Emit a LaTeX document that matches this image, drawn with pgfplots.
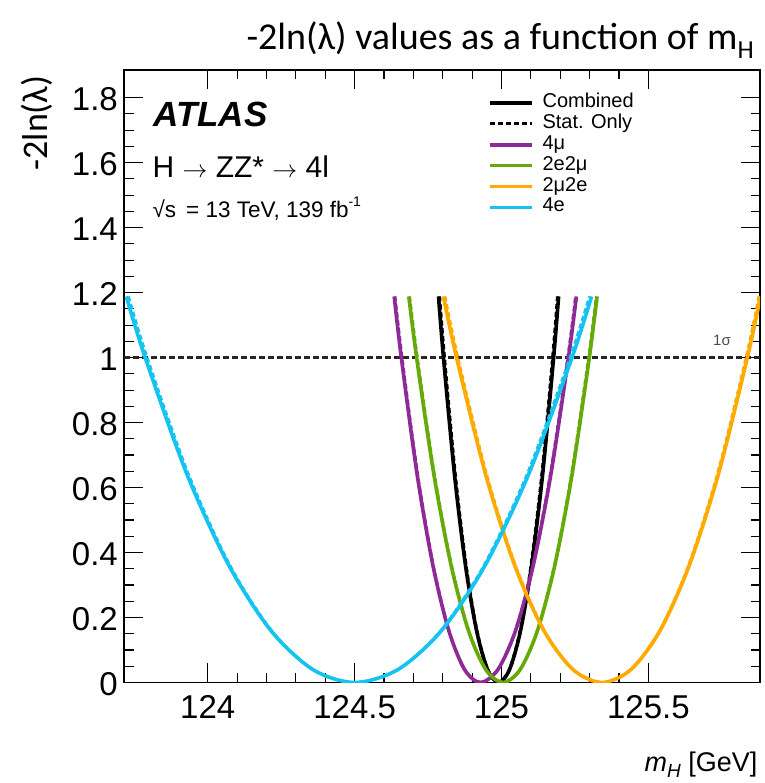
\documentclass[border=0pt]{standalone}
\usepackage{fontspec}
\setmainfont{Liberation Sans}
\newfontfamily\calibri{Carlito}
\usepackage{pgfplots}
\pgfplotsset{compat=1.18}
\usepackage{pgfplotstable}
\definecolor{cpurple}{RGB}{142,42,152}
\definecolor{cgreen}{RGB}{102,170,10}
\definecolor{corange}{RGB}{255,170,0}
\definecolor{ccyan}{RGB}{20,195,240}

\pgfplotstableread{
x y
124.7856 1.1881
124.8025 1
124.84 0.64
124.8775 0.36
124.915 0.16
124.9525 0.04
124.99 0
125.0275 0.04
125.065 0.16
125.1025 0.36
125.14 0.64
125.1775 1
125.1944 1.1881
}\comb
\pgfplotstableread{
x y
124.7894 1.1881
124.806 1
124.8428 0.64
124.8796 0.36
124.9164 0.16
124.9532 0.04
124.99 0
125.0268 0.04
125.0636 0.16
125.1004 0.36
125.1372 0.64
125.174 1
125.1906 1.1881
}\combstat
\pgfplotstableread{
x y
124.6348 1.1881
124.659 1
124.7128 0.64
124.7666 0.36
124.8204 0.16
124.8742 0.04
124.928 0
124.988 0.04
125.048 0.16
125.108 0.36
125.168 0.64
125.228 1
125.255 1.1881
}\fourmu
\pgfplotstableread{
x y
124.6381 1.1881
124.662 1
124.7152 0.64
124.7684 0.36
124.8216 0.16
124.8748 0.04
124.928 0
124.9874 0.04
125.0468 0.16
125.1062 0.36
125.1656 0.64
125.225 1
125.2517 1.1881
}\fourmustat
\pgfplotstableread{
x y
124.6845 1.1881
124.711 1
124.7698 0.64
124.8286 0.36
124.8874 0.16
124.9462 0.04
125.005 0
125.0638 0.04
125.1226 0.16
125.1814 0.36
125.2402 0.64
125.299 1
125.3255 1.1881
}\tetm
\pgfplotstableread{
x y
124.6878 1.1881
124.714 1
124.7722 0.64
124.8304 0.36
124.8886 0.16
124.9468 0.04
125.005 0
125.0632 0.04
125.1214 0.16
125.1796 0.36
125.2378 0.64
125.296 1
125.3222 1.1881
}\tetmstat
\pgfplotstableread{
x y
124.8024 1.1881
124.847 1
124.946 0.64
125.045 0.36
125.144 0.16
125.243 0.04
125.342 0
125.441 0.04
125.54 0.16
125.639 0.36
125.738 0.64
125.837 1
125.8816 1.1881
}\tmte
\pgfplotstableread{
x y
124.8079 1.1881
124.852 1
124.95 0.64
125.048 0.36
125.146 0.16
125.244 0.04
125.342 0
125.44 0.04
125.538 0.16
125.636 0.36
125.734 0.64
125.832 1
125.8761 1.1881
}\tmtestat
\pgfplotstableread{
x y
123.7228 1.1881
123.787 1
123.9296 0.64
124.0722 0.36
124.2148 0.16
124.3574 0.04
124.5 0
124.648 0.04
124.796 0.16
124.944 0.36
125.092 0.64
125.24 1
125.3066 1.1881
}\foure
\pgfplotstableread{
x y
123.7305 1.1881
123.794 1
123.9352 0.64
124.0764 0.36
124.2176 0.16
124.3588 0.04
124.5 0
124.6466 0.04
124.7932 0.16
124.9398 0.36
125.0864 0.64
125.233 1
125.299 1.1881
}\fourestat

\begin{document}
\begin{tikzpicture}
\useasboundingbox (0pt,0pt) rectangle (764pt,783pt);
\begin{axis}[
  at={(124pt,100.5pt)}, anchor=south west,
  scale only axis, width=636pt, height=612.5pt,
  xmin=123.715, xmax=125.88, ymin=0, ymax=1.885,
  xtick={124,124.5,125,125.5},
  ytick={0,0.2,0.4,0.6,0.8,1,1.2,1.4,1.6,1.8},
  minor x tick num=4, minor y tick num=3,
  major tick length=19pt, minor tick length=9.5pt,
  tick align=inside,
  every tick/.style={black, line width=1.1pt},
  axis line style={line width=1.6pt},
  tick label style={font=\fontsize{33}{33}\selectfont},
  /pgf/number format/assume math mode=true,
  xticklabel style={inner sep=0pt, anchor=north, yshift=-13pt},
  yticklabel style={inner sep=0pt, anchor=east, xshift=-6pt, yshift=-1.5pt},
  legend style={at={(0.5723,0.963)}, anchor=north west, draw=none, fill=none,
    inner sep=0pt, outer sep=0pt, row sep=0pt, column sep=9pt,
    font=\fontsize{20}{20}\selectfont,
    nodes={inner sep=0pt, text height=15pt, text depth=5.86pt}},
  legend cell align=left,
  legend image code/.code={\draw[#1] (0pt,0pt) -- (42pt,0pt);},
]
\addplot[black!85, line width=2.3pt, dash pattern=on 5.5pt off 3.5pt, forget plot] coordinates {(123.715,1) (125.88,1)};
\addplot[black, line width=3.6pt, smooth] table {\comb};
\addlegendentry{Combined}
\addplot[black, line width=3pt, dash pattern=on 5pt off 3pt, smooth] table {\combstat};
\addlegendentry{Stat. Only}
\addplot[cpurple, line width=3.6pt, smooth] table {\fourmu};
\addlegendentry{4μ}
\addplot[cpurple, line width=2.6pt, dash pattern=on 5pt off 3pt, smooth, forget plot] table {\fourmustat};
\addplot[cgreen, line width=3.6pt, smooth] table {\tetm};
\addlegendentry{2e2μ}
\addplot[cgreen, line width=2.6pt, dash pattern=on 5pt off 3pt, smooth, forget plot] table {\tetmstat};
\addplot[corange, line width=3.6pt, smooth] table {\tmte};
\addlegendentry{2μ2e}
\addplot[corange, line width=2.6pt, dash pattern=on 5pt off 3pt, smooth, forget plot] table {\tmtestat};
\addplot[ccyan, line width=3.6pt, smooth] table {\foure};
\addlegendentry{4e}
\addplot[ccyan, line width=2.6pt, dash pattern=on 5pt off 3pt, smooth, forget plot] table {\fourestat};
\end{axis}
\node[anchor=base west, font=\calibri\fontsize{38}{38}\selectfont] at (243pt,733pt)
  {-2ln(λ) values as a function of m\raisebox{-0.22em}{\fontsize{26}{26}\selectfont H}};
\node[rotate=90, anchor=base east, font=\calibri\fontsize{36}{36}\selectfont] at (47pt,711pt) {-2ln(λ)};
\node[anchor=base east, font=\fontsize{27}{27}\selectfont] at (761pt,12pt)
  {\textit{m}\raisebox{-0.25em}{\fontsize{19}{19}\selectfont\textit{H}} [GeV]};
\node[font=\fontsize{15}{15}\selectfont, text=black!70] at (722pt,443pt) {1σ};
\node[anchor=base west, font=\fontsize{35}{35}\selectfont\bfseries\itshape] at (150pt,656.3pt) {ATLAS};
\node[anchor=base west, font=\fontsize{30}{30}\selectfont] at (149pt,605.7pt) {H $\rightarrow$ ZZ* $\rightarrow$ 4l};
\node[anchor=base west, font=\fontsize{22.5}{22.5}\selectfont] at (149pt,565.7pt)
  {√s\, = 13 TeV, 139 fb\raisebox{0.5em}{\fontsize{14}{14}\selectfont -1}};
\end{tikzpicture}
\end{document}
